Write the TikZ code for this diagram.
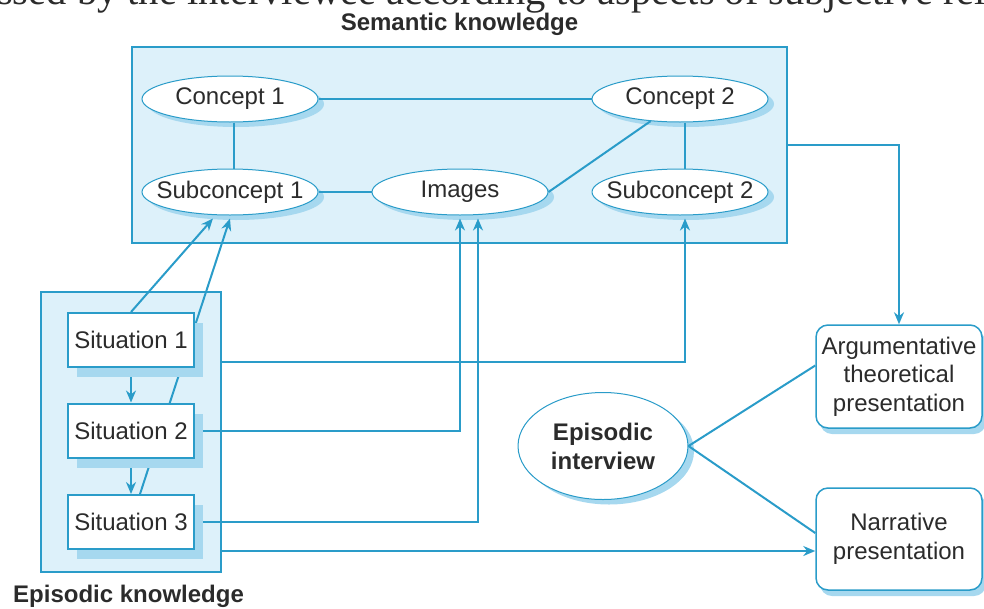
\documentclass[tikz,border=0pt]{standalone}
\usepackage{fontspec}
\setmainfont{Liberation Sans}
\newfontfamily\serifface{Liberation Serif}
\usetikzlibrary{arrows.meta,calc,shapes.geometric,shadows}
\definecolor{lineblue}{HTML}{2A9CC9}
\definecolor{panelfill}{HTML}{DDF1FA}
\definecolor{shadeblue}{HTML}{A6D8EF}
\definecolor{inkgray}{HTML}{2B2B2B}
\pgfdeclarelayer{back}
\pgfdeclarelayer{front}
\pgfsetlayers{back,main,front}

\begin{document}
\begin{tikzpicture}[x=1pt,y=-1pt,
  every node/.style={text=inkgray, font=\fontsize{24}{28.5}\selectfont},
  panel/.style={rectangle, draw=lineblue, line width=2pt, fill=panelfill, inner sep=0pt},
  concept/.style={ellipse, draw=lineblue, line width=1pt, fill=white,
    minimum width=176pt, minimum height=46pt, inner xsep=-14pt, inner ysep=0pt,
    general shadow={fill=shadeblue, shadow xshift=6pt, shadow yshift=-5pt}},
  situation/.style={rectangle, draw=lineblue, line width=2pt, fill=white,
    minimum width=126pt, minimum height=54pt, inner sep=0pt,
    general shadow={fill=shadeblue, shadow xshift=9pt, shadow yshift=-10pt}},
  presentation/.style={rectangle, rounded corners=12pt, draw=lineblue, line width=1.5pt,
    fill=white, minimum width=166pt, minimum height=103pt, inner sep=0pt, align=center,
    general shadow={fill=shadeblue, shadow xshift=4pt, shadow yshift=-6pt}},
  heading/.style={font=\bfseries\fontsize{24}{28.5}\selectfont, inner sep=0pt},
  link/.style={draw=lineblue, line width=2pt},
  flow/.style={link, -{Stealth[length=12pt,width=10pt]}},
]
\useasboundingbox (0,0) rectangle (984,608);
\clip (0,0) rectangle (984,608);

% running text of the page, cut by the top edge
\node[anchor=base west, inner sep=0pt, font=\serifface\fontsize{40.5}{40.5}\selectfont]
  (pagetext) at (-3,4.5) {ssed by the interviewee according to aspects of subjective rel};

\begin{pgfonlayer}{back}
  % containers
  \node[panel, minimum width=655pt, minimum height=196pt] (sem) at (459.5,145) {};
  \node[panel, minimum width=180pt, minimum height=280pt] (epi) at (131,432) {};
  \node[heading, anchor=base] (semtitle) at (459.5,30) {Semantic knowledge};
  \node[heading, anchor=base west] (epititle) at (13,602) {Episodic knowledge};

  % semantic network
  \node[concept] (c1)  at (230,99)  {Concept 1};
  \node[concept] (c2)  at (680,99)  {Concept 2};
  \node[concept] (s1)  at (230,192) {Subconcept 1};
  \node[concept] (img) at (460,192) {Images};
  \node[concept] (sc2) at (680,192) {Subconcept 2};

  % interview and the two presentations
  \node[concept, minimum width=170pt, minimum height=107pt, align=center,
        font=\bfseries\fontsize{24}{29}\selectfont] (ei) at (603,446) {Episodic\\interview};
  \node[presentation] (arg)  at (899,376.5) {Argumentative\\theoretical\\presentation};
  \node[presentation, minimum height=102pt] (narr) at (899,539) {Narrative\\presentation};
\end{pgfonlayer}

\begin{pgfonlayer}{front}
  \node[situation] (sit1) at (131,340)   {Situation 1};
  \node[situation] (sit2) at (131,430.5) {Situation 2};
  \node[situation] (sit3) at (131,522)   {Situation 3};
\end{pgfonlayer}

% links inside the semantic network
\draw[link] (c1) -- (c2);
\draw[link] ([xshift=4pt]c1.south) -- ([xshift=4pt]s1.north);
\draw[link] (s1) -- (img);
\draw[link] (img.east) -- (c2.217);
\draw[link] ([xshift=5pt]c2.south) -- ([xshift=5pt]sc2.north);

% situations feeding the semantic knowledge
\draw[flow] (sit1.north) -- ($(s1.south)+(-17,3)$);
\draw[flow] ($(sit3.north)+(9,0)$) -- ($(s1.south)+(0,3)$);
\draw[flow] (sit1) -- (sit2);
\draw[flow] (sit2) -- (sit3);
\coordinate (e1) at ($(epi.east)+(0,-70)$);
\draw[flow] (e1) -| ($(sc2.south)+(5,3)$);
\draw[flow] (sit2.east) -| ($(img.south)+(0,3)$);
\draw[flow] (sit3.east) -| ($(img.south)+(18,3)$);

% knowledge towards the presentations
\coordinate (e3) at ($(epi.east)+(0,119)$);
\draw[flow] (e3) -- (e3 -| narr.west);
\draw[flow] (sem.east) -| (arg.north);
\draw[link] (ei.east) -- ($(arg.west)+(0,-11)$);
\draw[link] (ei.east) -- ($(narr.west)+(0,-6)$);
\end{tikzpicture}
\end{document}
